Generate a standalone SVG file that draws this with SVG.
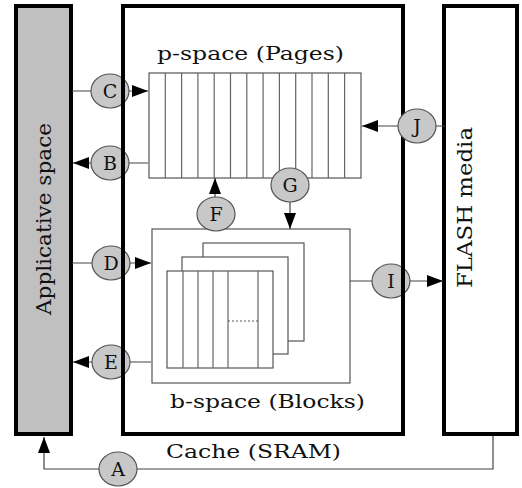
<svg xmlns="http://www.w3.org/2000/svg" width="522" height="488" viewBox="0 0 522 488">
<style>
.box{fill:none;stroke:#000;stroke-width:4}
.thin{fill:#fff;stroke:#555;stroke-width:1.2}
.grid{stroke:#666;stroke-width:1.2;fill:none}
.con{fill:none;stroke:#444;stroke-width:1.2}
.lbl{fill:#c8c8c8;stroke:#555;stroke-width:1.2}
.t{font-family:"DejaVu Serif","Liberation Serif",serif;fill:#111}
.lt{font-family:"DejaVu Serif","Liberation Serif",serif;font-size:19px;fill:#111;text-anchor:middle}
</style>
<defs>
<marker id="ah" markerWidth="16" markerHeight="12" refX="16" refY="6" orient="auto" markerUnits="userSpaceOnUse"><path d="M0,0 L16,6 L0,12 z" fill="#000"/></marker>
</defs>
<rect width="522" height="488" fill="#fff"/>
<g id="app">
<rect x="16" y="6" width="55" height="428" fill="#c0c0c0" stroke="#000" stroke-width="4"/>
<text class="t" font-size="21" transform="translate(51,315) rotate(-90)" textLength="192" lengthAdjust="spacingAndGlyphs">Applicative space</text>
</g>
<g id="flash">
<rect x="444" y="6" width="73" height="428" class="box" fill="#fff"/>
<text class="t" font-size="21" transform="translate(472,288) rotate(-90)" textLength="161" lengthAdjust="spacingAndGlyphs">FLASH media</text>
</g>
<g id="pspace">
<text class="t" font-size="19" x="157" y="60" textLength="187" lengthAdjust="spacingAndGlyphs">p-space (Pages)</text>
<rect x="149" y="73" width="212" height="105" class="thin"/>
<path class="grid" d="M165.3,73V178M181.6,73V178M197.9,73V178M214.2,73V178M230.5,73V178M246.8,73V178M263.1,73V178M279.4,73V178M295.7,73V178M312,73V178M328.3,73V178M344.6,73V178"/>
</g>
<g id="bspace">
<rect x="152" y="229" width="198" height="154" class="thin"/>
<rect x="203" y="243" width="101" height="98" class="thin"/>
<rect x="182" y="257" width="106" height="97" class="thin"/>
<rect x="167" y="271" width="106" height="97" class="thin"/>
<path class="grid" d="M183,271V368M198,271V368M213,271V368M228,271V368M258,271V368"/>
<path d="M228,321H258" stroke="#555" stroke-width="1" stroke-dasharray="2,2"/>
<text class="t" font-size="19" x="170" y="408" textLength="195" lengthAdjust="spacingAndGlyphs">b-space (Blocks)</text>
</g>
<g id="connectors">
<path class="con" d="M72,91H148" marker-end="url(#ah)"/>
<path class="con" d="M148,163H73" marker-end="url(#ah)"/>
<path class="con" d="M72,263H151" marker-end="url(#ah)"/>
<path class="con" d="M151,362H73" marker-end="url(#ah)"/>
<path class="con" d="M215,214V178" marker-end="url(#ah)"/>
<path class="con" d="M290,178V229" marker-end="url(#ah)"/>
<path class="con" d="M445,126H362" marker-end="url(#ah)"/>
<path class="con" d="M350,281H443" marker-end="url(#ah)"/>
<path class="con" d="M493,436V469H44V437" marker-end="url(#ah)"/>
</g>
<g id="C"><ellipse class="lbl" cx="110" cy="91" rx="19" ry="17"/><text class="lt" x="110" y="98">C</text></g>
<g id="B"><ellipse class="lbl" cx="110" cy="163" rx="19" ry="17"/><text class="lt" x="110" y="170">B</text></g>
<g id="D"><ellipse class="lbl" cx="111" cy="263" rx="19" ry="17"/><text class="lt" x="111" y="270">D</text></g>
<g id="E"><ellipse class="lbl" cx="111" cy="362" rx="19" ry="17"/><text class="lt" x="111" y="369">E</text></g>
<g id="F"><ellipse class="lbl" cx="216" cy="214" rx="19" ry="17"/><text class="lt" x="216" y="221">F</text></g>
<g id="G"><ellipse class="lbl" cx="290" cy="185" rx="19" ry="17"/><text class="lt" x="290" y="192">G</text></g>
<g id="I"><ellipse class="lbl" cx="391" cy="281" rx="19" ry="17"/><text class="lt" x="391" y="288">I</text></g>
<g id="A"><ellipse class="lbl" cx="118" cy="469" rx="19" ry="17"/><text class="lt" x="118" y="476">A</text></g>
<g id="cache">
<rect x="123" y="6" width="280" height="428" class="box"/>
<text class="t" font-size="19" x="166" y="458" textLength="175" lengthAdjust="spacingAndGlyphs">Cache (SRAM)</text>
</g>
<g id="J"><ellipse class="lbl" cx="417" cy="126" rx="19" ry="17"/><text class="lt" x="417" y="133">J</text></g>
</svg>
